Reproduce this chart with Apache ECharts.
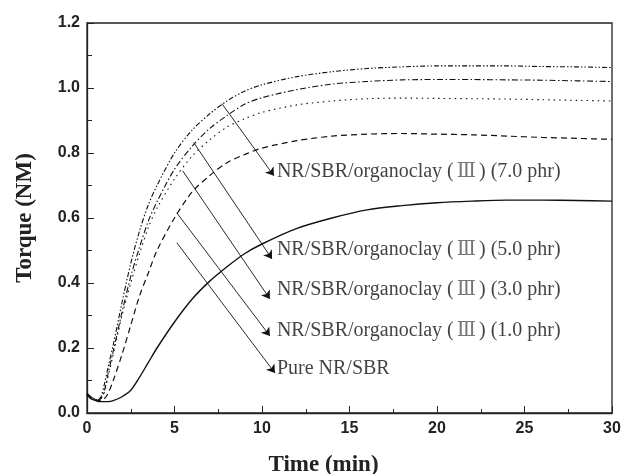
<!DOCTYPE html>
<html><head><meta charset="utf-8">
<script src="https://cdn.jsdelivr.net/npm/echarts@6/dist/echarts.min.js"></script>
<style>html,body{margin:0;padding:0;background:#fff}#c{width:622px;height:474px}</style>
</head><body><div id="c"></div>
<script>
const times = [0,0.2,0.4,0.6,0.8,1.0,1.2,1.5,2,2.5,3,3.5,4,5,6,7,8,9,10,12,14,16,18,20,22,24,26,28,30];
const phr70 = [0.06,0.05,0.045,0.04,0.05,0.09,0.14,0.21,0.34,0.46,0.56,0.64,0.70,0.80,0.87,0.92,0.96,0.99,1.01,1.035,1.05,1.06,1.065,1.068,1.068,1.068,1.066,1.065,1.063];
const phr50 = [0.06,0.05,0.044,0.04,0.045,0.07,0.12,0.19,0.31,0.42,0.51,0.59,0.65,0.75,0.82,0.875,0.915,0.95,0.97,0.995,1.012,1.02,1.025,1.026,1.026,1.025,1.024,1.022,1.02];
const phr30 = [0.06,0.05,0.044,0.04,0.045,0.065,0.11,0.18,0.30,0.40,0.49,0.57,0.63,0.72,0.79,0.84,0.88,0.905,0.925,0.948,0.96,0.967,0.969,0.968,0.967,0.966,0.964,0.962,0.96];
const phr10 = [0.06,0.05,0.043,0.038,0.038,0.045,0.06,0.10,0.18,0.27,0.36,0.43,0.50,0.60,0.68,0.73,0.77,0.795,0.815,0.838,0.852,0.858,0.86,0.858,0.856,0.852,0.848,0.845,0.842];
const pure  = [0.055,0.045,0.04,0.036,0.035,0.035,0.035,0.038,0.05,0.07,0.11,0.155,0.20,0.28,0.35,0.405,0.45,0.49,0.52,0.568,0.60,0.625,0.638,0.647,0.652,0.655,0.655,0.654,0.652];
const labelPrefix = ['NR/SBR/organoclay (','NR/SBR/organoclay (','NR/SBR/organoclay (','NR/SBR/organoclay (','Pure NR/SBR'];
const labelRoman  = ['Ⅲ','Ⅲ','Ⅲ','Ⅲ',''];
const labelSuffix = [') (7.0 phr)',') (5.0 phr)',') (3.0 phr)',') (1.0 phr)',''];
// arrow start/end and label anchor in data units
const arrowFrom = [[7.71,0.952],[6.10,0.832],[5.47,0.745],[5.13,0.616],[5.13,0.524]];
const arrowTo   = [[10.68,0.730],[10.57,0.474],[10.45,0.351],[10.45,0.237],[10.74,0.123]];
const labelAt   = [[10.85,0.742],[10.85,0.502],[10.85,0.379],[10.85,0.253],[10.85,0.136]];

const pair = (ys) => times.map((t,i)=>[t,ys[i]]);
const mkLine = (name, ys, type, w) => ({
  name, type:'line', data: pair(ys), smooth:0.3, showSymbol:false, symbol:'none',
  lineStyle:{color:'#111', width:w, type:type}, z:3
});
const chart = echarts.init(document.getElementById('c'), null, {renderer:'canvas'});
const axisLabelStyle = {color:'#222', fontFamily:'Liberation Sans, Arial', fontWeight:'bold', fontSize:16};
const nameStyle = {fontFamily:'Liberation Serif, Times New Roman', fontWeight:'bold', fontSize:23, color:'#222'};
chart.setOption({
  animation:false,
  backgroundColor:'#fff',
  grid:{left:87, top:23, right:10, bottom:61, containLabel:false, outerBoundsMode:'none',
    show:true, borderColor:'#222', borderWidth:1.3, backgroundColor:'transparent'},
  xAxis:{type:'value', min:0, max:30, interval:5,
    name:'Time (min)', nameLocation:'middle', nameGap:41,
    nameTextStyle:Object.assign({padding:[0,52,0,0]}, nameStyle),
    axisLine:{show:true, lineStyle:{color:'#222', width:1.3}},
    axisTick:{show:true, inside:true, length:7, lineStyle:{color:'#222'}},
    minorTick:{show:true, splitNumber:2, length:4, lineStyle:{color:'#222'}},
    splitLine:{show:false},
    axisLabel:Object.assign({margin:8}, axisLabelStyle)
  },
  yAxis:{type:'value', min:0, max:1.2, interval:0.2,
    name:'Torque (NM)', nameLocation:'middle', nameGap:50, nameRotate:90,
    nameTextStyle:nameStyle,
    axisLine:{show:true, lineStyle:{color:'#222', width:1.3}},
    axisTick:{show:true, inside:true, length:7, lineStyle:{color:'#222'}},
    minorTick:{show:true, splitNumber:2, length:5, lineStyle:{color:'#222'}},
    splitLine:{show:false},
    axisLabel:Object.assign({margin:7, formatter:(v)=>v.toFixed(1)}, axisLabelStyle)
  },
  series:[
    mkLine('7.0 phr', phr70, [5,2,1.5,2,1.5,2], 1.1),
    mkLine('5.0 phr', phr50, [6,2.5,1.5,2.5], 1.1),
    mkLine('3.0 phr', phr30, [1.5,4], 1.1),
    mkLine('1.0 phr', phr10, [6,4], 1.2),
    mkLine('Pure', pure, 'solid', 1.4),
    {type:'line', data:[], silent:true,
      markLine:{silent:true, symbol:['none','arrow'], symbolSize:8, animation:false,
        lineStyle:{color:'#111', width:0.9, type:'solid'}, label:{show:false},
        data: arrowFrom.map((p,i)=>[{coord:p},{coord:arrowTo[i]}])}
    },
    {type:'scatter', symbolSize:0, silent:true, z:5,
      data: labelAt.map((p,i)=>({value:p, name:String(i)})),
      label:{show:true, position:'right', distance:0, color:'#111',
        fontFamily:'Liberation Serif, Times New Roman', fontSize:20,
        formatter:(p)=>{const i=+p.name; return labelPrefix[i] + (labelRoman[i] ? '{r|'+labelRoman[i]+'}' : '') + labelSuffix[i];},
        rich:{r:{fontFamily:'DejaVu Serif', fontWeight:'normal', fontSize:20, color:'#555', padding:[0,3,0,3]}}
      }
    }
  ]
});
</script></body></html>
